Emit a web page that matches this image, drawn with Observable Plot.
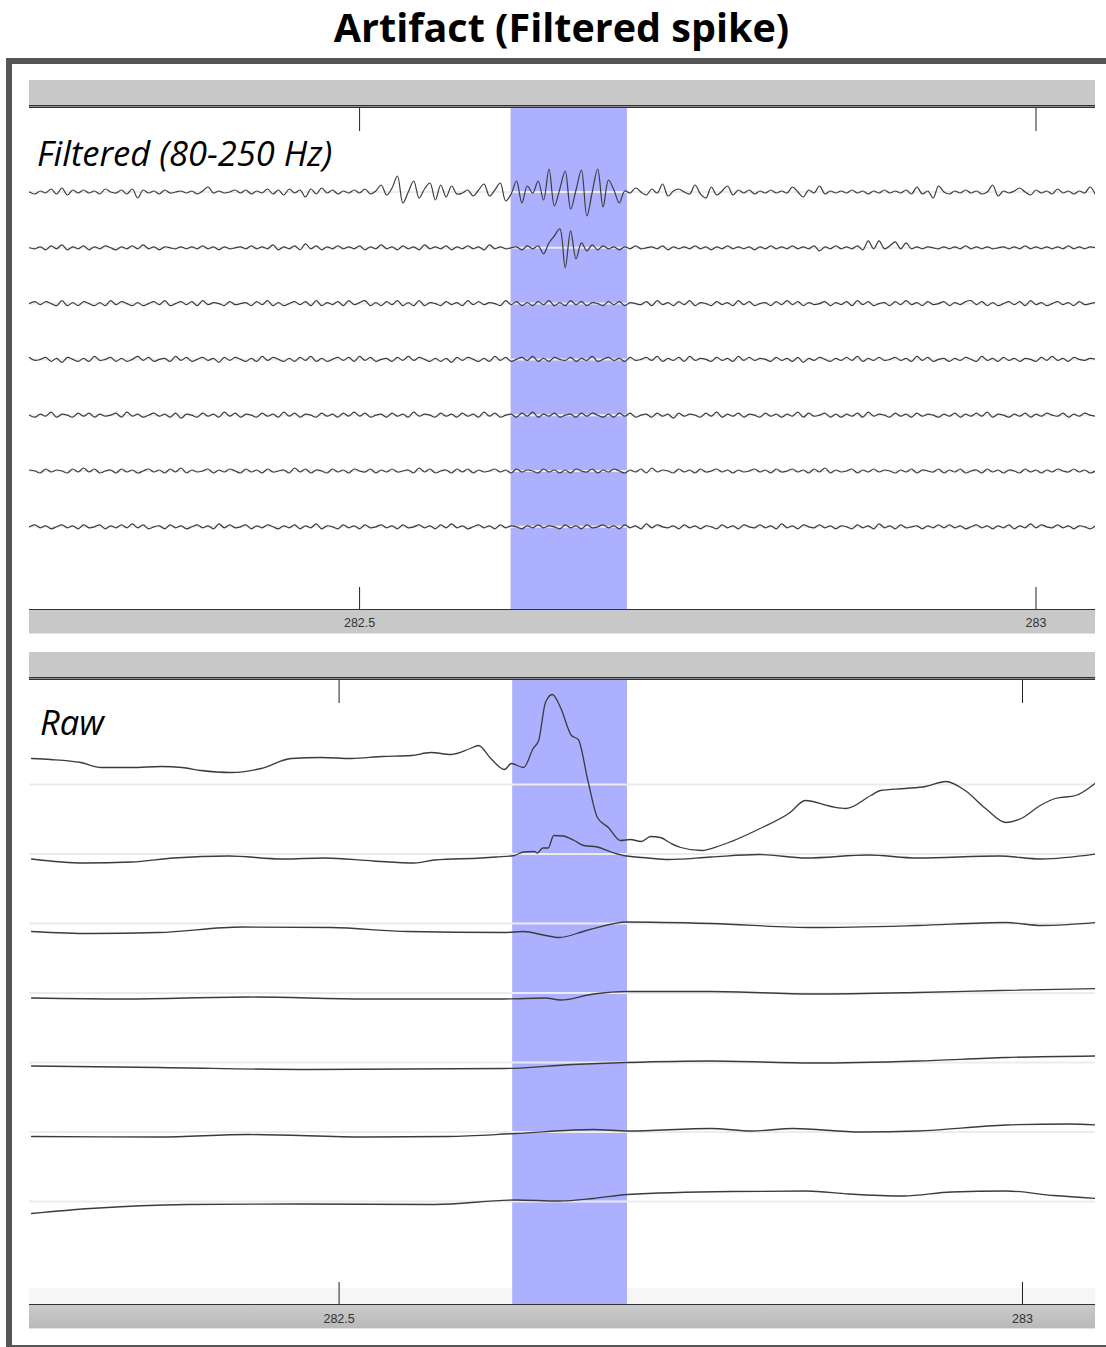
<!DOCTYPE html>
<html><head><meta charset="utf-8">
<script src="https://cdn.jsdelivr.net/npm/d3@7"></script>
<script src="https://cdn.jsdelivr.net/npm/@observablehq/plot@0.6"></script>
<style>
body{margin:0;background:#fff;}
#page{position:relative;width:1106px;height:1347px;overflow:hidden;background:#fff;font-family:"Open Sans",sans-serif;}
.abs{position:absolute;}
.bar{position:absolute;left:29px;width:1066px;background:#c8c8c8;}
.dbl{position:absolute;left:29px;width:1066px;height:1px;background:#8a8a8a;border-top:1px solid #333;border-bottom:1px solid #333;}
.lbl{position:absolute;font-style:italic;font-size:34.5px;line-height:1;color:#000;z-index:5;white-space:nowrap;}
.plot{position:absolute;left:29px;z-index:2;}
</style></head>
<body><div id="page">
<div class="abs" style="left:561.5px;top:7.5px;transform:translateX(-50%);font-weight:700;font-size:39.5px;line-height:1;white-space:nowrap;">Artifact (Filtered spike)</div>
<div class="abs" style="left:6px;top:58px;width:1200px;height:1293px;border:6px solid #555;box-sizing:border-box;"></div>
<!-- panel 1 -->
<div class="bar" style="top:80px;height:25px;"></div>
<div class="dbl" style="top:105px;"></div>
<div class="bar" style="top:609px;height:23px;border-top:1px solid #333;border-bottom:1px solid #e2e2e2;"></div>
<div class="lbl" style="left:37px;top:135.5px;">Filtered (80-250 Hz)</div>
<div class="plot" id="p1" style="top:108px;"></div>
<!-- panel 2 -->
<div class="bar" style="top:652px;height:25px;"></div>
<div class="dbl" style="top:677px;"></div>
<div class="abs" style="left:29px;top:1288px;width:1066px;height:16px;background:#f6f6f6;"></div>
<div class="bar" style="top:1304px;height:23px;border-top:1px solid #333;border-bottom:1px solid #e2e2e2;background:linear-gradient(#cacaca,#b9b9b9);"></div>
<div class="lbl" style="left:40px;top:704.5px;">Raw</div>
<div class="plot" id="p2" style="top:680px;"></div>
</div>
<script>
// ---------- data ----------
const tickValues = [282.5, 283];
// filtered (80-250 Hz) traces, sampled every 4 ms from 282.256 s
const filtT0 = 282.256, filtDt = 0.004;
const filt1 = [0,-2,1,-1,3,-2,4,-3,2,-1, 2,-1,1,-2,3,0,-1,2,-2,3, -6,2,-1,1,-2,2,-1,0,1,-1, 1,-2,1,5,-1,1,-1,0,2,-1, 2,-2,1,-1,3,-2,2,-3,3,-1, 2,-5,3,-2,4,-1,2,-2,1,-1, 2,-1,3,-2,1,7,-3,4,16,-11, 0,11,-6,3,9,-8,7,-5,6,-2, -1,2,-4,2,8,-4,2,9,-9,-2, 11,-11,6,-1,11,-8,23,-14,3,21, -17,2,22,-24,0,23,-15,12,2,-11, 1,-1,4,0,-3,3,-1,8,-4,1, 3,0,-2,7,-2,-6,5,-3,1,6, -3,2,-1,2,-2,1,-1,2,-1,1, -1,5,0,-5,2,-1,6,-2,1,-1, 1,-1,2,-1,1,-2,1,-1,2,-1, 1,-1,2,-2,5,-2,1,-6,6,0, -2,1,-1,2,-1,1,-2,0,7,-4, 1,-1,1,4,0,-3,2,-1,1,-2, 3,-1,1,-2,1,-1,5,-3];
const filt2 = [0,-1,1,-2,2,-1,3,-2,1,-1, 2,-2,1,-1,2,0,-2,1,-1,2, -1,3,-1,1,-2,1,0,-1,1,-1, 1,-1,2,-1,1,-2,1,-1,0,1, -1,2,-1,1,-1,3,-2,1,-1,2, -2,4,-1,2,-2,1,-1,2,-1,1, -1,2,-2,1,-1,3,-1,1,-2,2, -1,1,-2,3,-1,1,-1,2,-2,1, -1,2,-1,1,-2,3,-1,1,-1,0, 1,-2,2,-1,2,-6,5,12,19,-20, 17,-11,5,-3,3,-2,2,-1,1,-2, 1,-1,2,-1,0,1,-1,2,-2,1, -1,1,-1,2,-1,1,-2,1,-1,2, -1,1,-1,1,-2,1,-1,2,-1,1, -1,2,-1,1,-1,2,-3,1,-1,2, -1,1,-1,2,-2,7,-1,7,-1,2, 6,-1,5,-1,1,-1,1,0,-1,1, -1,1,-1,2,-1,1,-1,1,-1,0, 1,-1,1,-1,2,-1,1,-1,1,-1, 1,-1,2,-1,1,-1,1,0];
const filt3 = [0,2,-1,2,0,-2,3,-2,1,-2, 2,0,-2,1,-2,3,-1,2,0,-2, 1,-2,0,2,-1,3,-2,0,2,-1, 2,-2,3,-1,1,0,-2,2,-1,0, 1,-2,2,-1,3,-2,1,-2,0,2, -1,2,-2,3,-2,1,-1,2,-2,3, -1,1,3,-2,1,-2,2,-1,3,-2, 1,-2,3,-2,1,0,-2,2,-1,1, -2,3,-1,2,-1,1,0,-2,3,-1, 2,-2,1,-2,2,-1,3,-2,1,-2, 3,-1,2,-2,1,0,-2,2,-1,2, -2,1,0,-1,2,-2,3,-1,1,-2, 2,-1,3,-2,1,0,-2,2,-1,1, -2,3,-1,2,-2,0,1,-2,2,-1, 3,-1,2,-2,1,-1,0,2,-2,1, -1,2,-2,3,-1,2,-2,0,1,-2, 2,-1,3,-1,1,-2,2,-1,0,2, -2,1,-1,2,3,-1,2,-2,1,-2, 0,2,-1,2,-2,3,-1,1,-2,0, 2,-1,1,-2,2,-1,0,1];
const filt4 = [2,-1,0,2,-2,1,-3,2,0,-2, 1,-2,3,-1,0,2,-2,1,-2,0, 3,-1,2,-2,0,1,-2,3,-1,2, -2,0,2,-1,1,-3,2,-1,2,0, -2,1,-2,3,-1,2,0,-2,1,-2, 2,-1,3,-2,1,-2,0,2,-1,2, -2,3,-1,2,-2,0,1,-2,2,-1, 3,-1,2,0,-2,1,-2,1,-3,2, -1,2,0,-2,1,-2,3,-1,2,-2, 0,2,-1,3,-2,1,-2,2,0,-1, 2,-2,1,-1,3,-2,0,2,-1,1, -2,2,-1,0,2,-1,3,-2,1,-1, 2,-2,3,-1,1,0,-2,2,-1,1, -2,3,-1,2,-1,1,0,-2,2,-1, 1,-2,2,-3,1,-1,2,0,-2,1, -1,2,-1,3,-2,1,-1,2,-1,0, 2,-1,1,-2,3,-1,2,-2,0,1, -2,1,-1,2,0,-2,3,-1,1,-2, 2,-1,1,-2,1,0,-2,2,-1,3, -1,1,-2,2,0,-1,1,0];
const filt5 = [0,-2,1,-1,3,-2,1,0,-2,2, -1,2,-2,1,-1,0,2,-2,3,-1, 1,-2,0,2,-1,1,-2,2,-3,1, 0,-2,2,-1,1,-2,3,-1,2,-2, 1,0,-2,2,-1,1,-2,3,-1,2, -2,1,0,-2,2,-1,1,-2,2,-1, 3,-1,2,-2,0,1,-2,2,-1,1, -2,3,-1,1,0,-2,2,-1,1,-2, 2,-1,1,-2,3,-1,2,-2,0,1, -2,2,-1,3,-2,1,-1,2,-2,0, 1,-2,2,-1,2,0,-2,1,-2,2, -1,2,-2,0,1,-2,2,-1,1,-3, 2,-1,1,0,-2,2,-1,3,-2,1, -1,2,-2,1,0,-2,2,-1,1,-2, 1,-1,3,-2,2,-1,0,2,-2,1, -2,1,-1,2,-2,3,-1,1,0,-2, 2,-1,1,-2,2,-1,1,0,-2,1, -1,2,-2,1,-1,2,-1,3,-2,1, 0,-2,1,-1,2,-2,1,-1,2,0, -1,2,-2,1,-1,2,0,-1];
const filt6 = [1,0,-2,2,-1,1,0,-2,2,-1, 3,-1,2,-2,0,1,-2,2,-1,1, -2,0,2,-1,1,-2,2,-1,3,-2, 1,-1,0,2,-2,1,-1,2,0,-2, 2,-1,1,-2,2,-1,0,1,-2,3, -1,2,-2,1,0,-2,2,-1,1,-2, 2,0,-1,2,-2,1,-1,2,-1,0, 1,-2,3,-1,2,-2,0,1,-2,2, -1,2,-2,1,-1,0,2,-1,1,-2, 2,-1,1,0,-2,2,-1,1,-2,1, -2,2,0,-1,2,-2,1,-1,2,0, -2,1,-1,2,-2,3,-1,1,0,-2, 2,-1,1,-2,2,-1,0,2,-1,1, -2,1,-1,0,2,-1,1,-2,2,-1, 0,2,-1,1,-2,2,-1,3,-2,1, -1,0,2,-2,1,-1,2,-1,1,0, -2,1,-1,2,-2,1,0,-1,2,-2, 1,-1,2,-2,0,1,-2,2,-1,1, -2,1,0,-2,2,-1,1,-2,1,-1, 2,0,-1,2,-1,1,-2,0];
const filt7 = [0,2,-1,1,-2,0,2,-1,1,-2, 2,-1,0,2,-2,1,-1,2,-1,3, -1,2,-2,0,1,-2,2,-1,1,-2, 0,2,-1,1,-2,3,-1,2,-1,0, 2,-2,1,-1,2,0,-2,1,-1,2, -2,1,-1,3,-2,1,0,-2,2,-1, 1,-2,2,-1,0,2,-1,1,-2,2, -1,0,2,-1,1,-2,2,-1,3,-1, 1,-2,0,2,-1,1,-2,2,-1,1, 0,-2,1,-1,2,-1,1,0,-2,2, -1,1,-2,2,-1,0,2,-1,1,-2, 2,-1,1,-2,3,-1,2,0,-1,1, -2,2,-1,1,-2,1,0,-2,2,-1, 1,-2,2,0,-1,2,-1,1,-2,3, -1,1,-2,2,0,-1,2,-1,1,-2, 1,0,-2,2,-1,1,-2,3,-1,1, -2,2,-1,0,1,-2,1,-1,2,-1, 2,-1,1,-2,0,2,-1,1,-2,1, -1,2,-2,1,-1,3,-1,2,0,-1, 2,-1,1,-2,1,0,-2,1];
// raw traces: [time (s), value]
const raw1 = [[282.275,26],[282.289,25],[282.311,22],[282.326,17],[282.348,17],[282.370,18],[282.385,17],[282.399,14],[282.421,12],[282.443,16],[282.465,26],[282.487,27],[282.509,26],[282.531,28],[282.553,29],[282.567,32],[282.582,30],[282.596,36],[282.602,39],[282.611,26],[282.621,15],[282.626,21],[282.635,17],[282.642,36],[282.646,44],[282.651,82],[282.656,90],[282.662,77],[282.670,49],[282.675,45],[282.682,4],[282.689,-33],[282.697,-43],[282.706,-56],[282.713,-55],[282.721,-57],[282.728,-52],[282.735,-53],[282.743,-59],[282.750,-63],[282.765,-66],[282.779,-61],[282.808,-44],[282.830,-28],[282.841,-16],[282.860,-22],[282.871,-24],[282.889,-11],[282.896,-6],[282.914,-4],[282.929,-2],[282.944,3],[282.958,-6],[282.973,-24],[282.988,-38],[282.999,-34],[283.013,-21],[283.024,-14],[283.039,-11],[283.053,1]];
const raw2 = [[282.275,-5],[282.313,-9],[282.348,-8],[282.379,-4],[282.419,-2],[282.459,-5],[282.489,-4],[282.525,-7],[282.555,-9],[282.570,-6],[282.604,-4],[282.615,-3],[282.628,-1.5],[282.635,2],[282.643,2.5],[282.645,1],[282.649,6],[282.653,6],[282.657,18.5],[282.664,18],[282.672,13.5],[282.679,8.5],[282.689,7],[282.699,2],[282.708,-1.5],[282.726,-4],[282.741,-5.5],[282.772,-3],[282.807,-0.5],[282.842,-4],[282.887,-1],[282.923,-4],[282.983,-2],[283.014,-5],[283.054,0]];
const raw3 = [[282.275,-8],[282.318,-10],[282.368,-9],[282.429,-3.5],[282.494,-4],[282.550,-8],[282.621,-9],[282.635,-8],[282.651,-12],[282.661,-14],[282.681,-7],[282.711,1.5],[282.772,0],[282.847,-4],[282.923,-2],[282.988,1],[283.014,-2],[283.054,1]];
const raw4 = [[282.275,-5],[282.343,-6],[282.434,-4],[282.520,-6],[282.621,-6],[282.651,-5],[282.662,-7],[282.686,-1],[282.711,1.5],[282.772,1.5],[282.847,-1],[282.923,0.5],[282.983,2.5],[283.054,4.5]];
const raw5 = [[282.275,-3.5],[282.368,-5],[282.480,-7],[282.621,-6],[282.671,-2],[282.711,0],[282.772,1.5],[282.847,-0.5],[282.923,1.5],[282.988,5],[283.054,6.5]];
const raw6 = [[282.275,-4.5],[282.368,-5],[282.434,-2.5],[282.520,-5],[282.580,-4.5],[282.629,-1.5],[282.686,2.5],[282.711,1],[282.772,3.5],[282.802,1],[282.832,3.5],[282.882,0],[282.923,1],[282.988,7],[283.034,8],[283.054,7]];
const raw7 = [[282.275,-12],[282.318,-7],[282.389,-3],[282.469,-2.5],[282.570,-3],[282.629,1.5],[282.661,0.5],[282.686,3],[282.711,7],[282.787,10],[282.842,10.5],[282.873,7.5],[282.913,5.5],[282.948,9.5],[282.988,10.5],[283.023,6],[283.054,3]];
// visible windows and artifact interval
const filtWindow = [282.256, 283.044];
const filtArtifact = [282.612, 282.698];
const rawWindow = [282.2735, 283.0534];
const rawArtifact = [282.627, 282.711];

// ---------- drawing ----------
const TRACE = "#3b3b3b", BAND = "#adb0fe", BASE = "#ececec";

function panel({rows, nCh, gap, window, artifact, frameH, topVal, bottomM, pad, curve, sw}) {
  const baselines = d3.range(nCh).map(i => -i * gap);
  return Plot.plot({
    width: 1066, height: frameH + bottomM,
    marginTop: 0, marginBottom: bottomM, marginLeft: 0, marginRight: 0,
    x: {domain: window, label: null},
    y: {domain: [topVal - frameH, topVal], axis: null},
    style: {background: "transparent", fontFamily: "'Liberation Sans', Arial, sans-serif", fontSize: "12.5px", color: "#333", overflow: "visible"},
    marks: [
      Plot.rect([artifact], {x1: d => d[0], x2: d => d[1], fill: BAND}),
      Plot.ruleY(baselines, {stroke: BASE, strokeWidth: 2}),
      Plot.line(rows, {x: "t", y: "y", z: "ch", stroke: TRACE, strokeWidth: sw, curve, clip: true}),
      Plot.ruleX(tickValues, {stroke: "#222", strokeWidth: 1, insetBottom: frameH - 23}),
      Plot.ruleX(tickValues, {stroke: "#222", strokeWidth: 1, insetTop: frameH - 22}),
      Plot.axisX({ticks: tickValues, tickSize: 0, tickPadding: pad, tickFormat: d => String(d), fill: "#333", fontSize: 12.5, label: null})
    ]
  });
}

const FILT_GAP = 55.8;
const filtRows = [filt1, filt2, filt3, filt4, filt5, filt6, filt7].flatMap((arr, i) =>
  arr.map((v, k) => ({t: filtT0 + k * filtDt, y: v - i * FILT_GAP, ch: i})));
document.getElementById("p1").append(panel({
  rows: filtRows, nCh: 7, gap: FILT_GAP, window: filtWindow, artifact: filtArtifact,
  frameH: 501, topVal: 83.5, bottomM: 24, pad: 9, curve: "catmull-rom", sw: 1.2
}));

const RAW_GAP = 69.5;
const rawRows = [raw1, raw2, raw3, raw4, raw5, raw6, raw7].flatMap((arr, i) =>
  arr.map(([t, v]) => ({t, y: v - i * RAW_GAP, ch: i})));
document.getElementById("p2").append(panel({
  rows: rawRows, nCh: 7, gap: RAW_GAP, window: rawWindow, artifact: rawArtifact,
  frameH: 624, topVal: 104, bottomM: 24, pad: 9.5, curve: "monotone-x", sw: 1.3
}));
</script>
</body></html>
